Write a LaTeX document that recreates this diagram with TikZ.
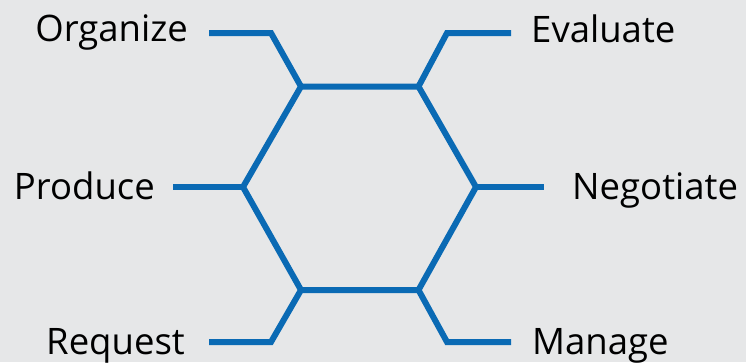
\documentclass[tikz,border=0pt]{standalone}
\usepackage{fontspec}
\setmainfont{Open Sans}
\definecolor{bg}{HTML}{E6E7E8}
\definecolor{hexblue}{HTML}{0A6AB4}
\begin{document}
\begin{tikzpicture}[x=1pt,y=-1pt,
  link/.style={draw=hexblue,line width=6pt,line join=miter},
  lbl/.style={inner sep=0pt,font=\fontsize{36.5}{40}\selectfont,text=black}]
\fill[bg] (0,0) rectangle (746,362);
\useasboundingbox (0,0) rectangle (746,362);
% hexagon vertices
\coordinate (A) at (301,86.5);
\coordinate (B) at (418.5,86.5);
\coordinate (C) at (476,187);
\coordinate (D) at (418.5,290);
\coordinate (E) at (301,290);
\coordinate (F) at (243,187);
% connector bends and ends
\coordinate (a1) at (271,33);  \coordinate (a2) at (209,33);
\coordinate (b1) at (447,33);  \coordinate (b2) at (511,33);
\coordinate (f2) at (173,187);
\coordinate (c2) at (544,187);
\coordinate (e1) at (271,342); \coordinate (e2) at (209,342);
\coordinate (d1) at (447,342); \coordinate (d2) at (511,342);
\draw[link] (A) -- (B) -- (C) -- (D) -- (E) -- (F) -- cycle;
\draw[link] (A) -- (a1) -- (a2);
\draw[link] (B) -- (b1) -- (b2);
\draw[link] (F) -- (f2);
\draw[link] (C) -- (c2);
\draw[link] (E) -- (e1) -- (e2);
\draw[link] (D) -- (d1) -- (d2);
% labels
\node[lbl,anchor=base east] (org) at (188,41) {Organize};
\node[lbl,anchor=base west] (eva) at (531,42) {Evaluate};
\node[lbl,anchor=base east] (pro) at (155,199) {Produce};
\node[lbl,anchor=base west] (neg) at (572,199) {Negotiate};
\node[lbl,anchor=base east] (req) at (185,354) {Request};
\node[lbl,anchor=base west] (man) at (532,354) {Manage};
\end{tikzpicture}
\end{document}
